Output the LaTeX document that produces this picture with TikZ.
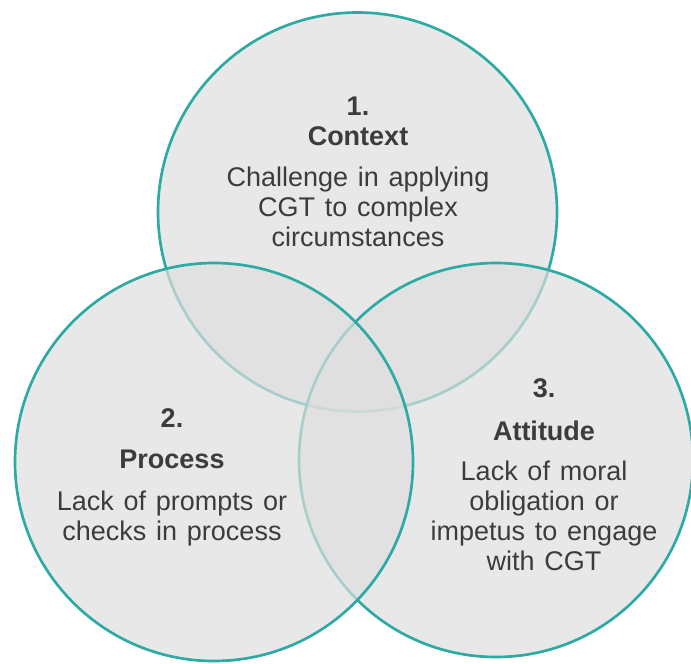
\documentclass[tikz,border=0pt]{standalone}
\usepackage{fontspec}
\setmainfont[WordSpace={1.3}]{Liberation Sans}
\usepackage{tikz}

\definecolor{ringteal}{RGB}{44,170,163}
\definecolor{ringfill}{RGB}{222,222,222}
\definecolor{inkgray}{RGB}{60,60,60}

\begin{document}
\begin{tikzpicture}[x=0.75pt,y=0.75pt,yscale=-1,
  ring/.style={draw=ringteal, line width=2pt, fill=ringfill, fill opacity=0.7},
  txt/.style={text=inkgray, font=\fontsize{20.25}{22.5}\selectfont, inner sep=0pt, align=center},
  head/.style={txt, font=\fontsize{20.25}{22.5}\selectfont\bfseries}]
\useasboundingbox (0,0) rectangle (691,663);

%Shape: Circle (top)
\draw [ring] (357.5,212) circle [radius=199.5];
%Shape: Circle (right)
\draw [ring] (496,460) circle [radius=197];
%Shape: Circle (left)
\draw [ring] (214,462) circle [radius=199];

% Text Node
\node [head, anchor=base] (num1) at (358,116) {1.};
% Text Node
\node [head, anchor=base] (head1) at (358,145) {Context};
% Text Node
\node [txt, anchor=north] (body1) at (358,167) {Challenge in applying\\CGT to complex\\circumstances};

% Text Node
\node [head, anchor=base] (num2) at (172,427) {2.};
% Text Node
\node [head, anchor=base] (head2) at (172,468) {Process};
% Text Node
\node [txt, anchor=north] (body2) at (172,491) {Lack of prompts or\\checks in process};

% Text Node
\node [head, anchor=base] (num3) at (544,397) {3.};
% Text Node
\node [head, anchor=base] (head3) at (544,440) {Attitude};
% Text Node
\node [txt, anchor=north] (body3) at (544,461) {Lack of moral\\obligation or\\impetus to engage\\with CGT};

\end{tikzpicture}
\end{document}
